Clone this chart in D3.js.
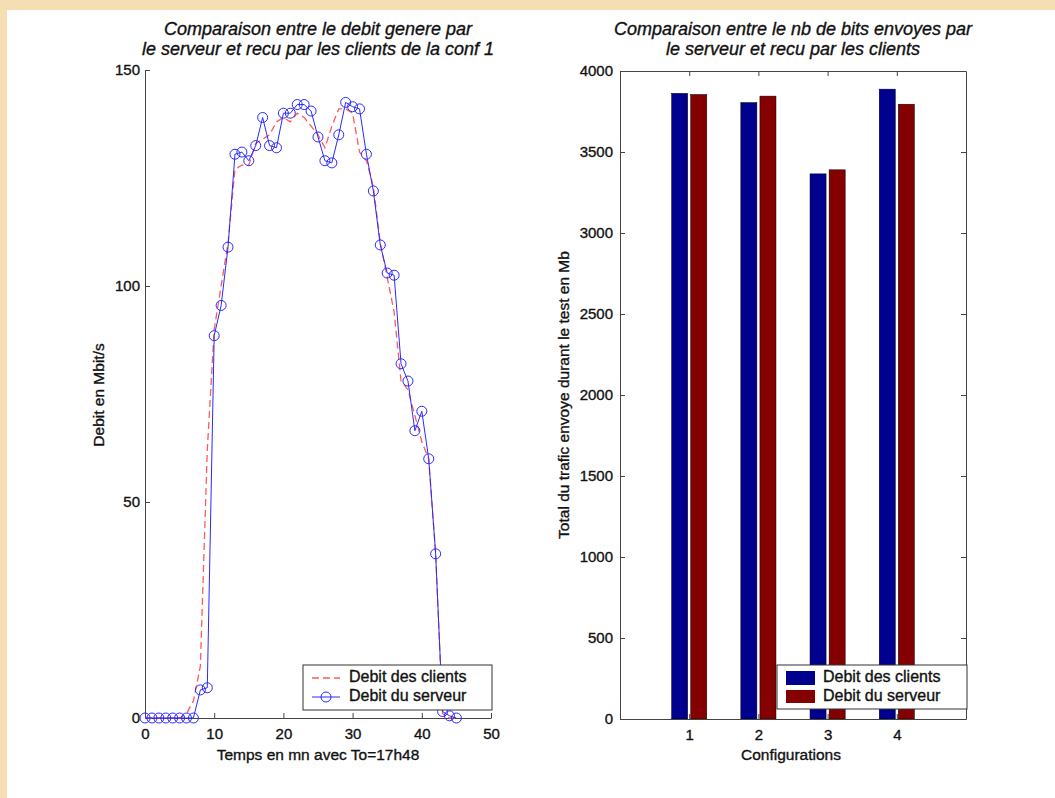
<!DOCTYPE html>
<html>
<head>
<meta charset="utf-8">
<script src="https://cdn.jsdelivr.net/npm/d3@7"></script>
<style>
  html, body { margin: 0; padding: 0; background: #fff; }
  svg text { font-family: "Liberation Sans", Arial, Helvetica, sans-serif; fill: #111; stroke: #111; stroke-width: 0.35px; }
</style>
</head>
<body>
<svg id="chart" width="1055" height="798"></svg>
<script>
// ---- Data ----
const minutes = d3.range(0, 46);
const serverRate = [0,0,0,0,0,0,0,0,6.5,7,88.5,95.5,109,130.5,131,129,132.5,139,132.5,132,140,140,142,142,140.5,134.5,129,128.5,135,142.5,141.5,141,130.5,122,109.5,103,102.5,82,78,66.5,71,60,38,1.5,0.5,0];
const clientRate = [0,0,0,0,0,0,1,4,12,62,90,100,110,127,128,128,133,134,135,138,139,138,140,139,137,135,132,137,141,141,140,131,129,123,110,102,94,78,76,70,64,60,38,1,0,0];
const lineXTicks = [0,10,20,30,40,50];
const lineYTicks = [0,50,100,150];

const configurations = [1,2,3,4];
const clientTotals = [3862,3805,3365,3888];
const serverTotals = [3855,3845,3390,3795];
const barYTicks = [0,500,1000,1500,2000,2500,3000,3500,4000];

const seriesNames = ["Debit des clients","Debit du serveur"];

const TICK_FS = 15, LABEL_FS = 15.5, TITLE_FS = 18, LEGEND_FS = 16;

const svg = d3.select("#chart");
svg.append("rect").attr("width",1055).attr("height",798).attr("fill","#fff");

// ---------------- Left chart ----------------
const xL = d3.scaleLinear().domain([0,50]).range([145,491]);
const yL = d3.scaleLinear().domain([0,150]).range([718,70]);

const gL = svg.append("g");
const axL = gL.append("g").attr("transform","translate(145,0)")
  .call(d3.axisLeft(yL).tickValues(lineYTicks).tickSize(-5).tickSizeOuter(0).tickPadding(5));
const axB = gL.append("g").attr("transform","translate(0,718)")
  .call(d3.axisBottom(xL).tickValues(lineXTicks).tickSize(-5).tickSizeOuter(0).tickPadding(10));
[axL, axB].forEach(a => {
  a.selectAll("path,line").attr("stroke","#444");
  a.selectAll("text").attr("font-size",TICK_FS).attr("fill","#111");
});

const lineFn = d3.line().x((d,i)=>xL(minutes[i])).y(d=>yL(d));
gL.append("path").datum(clientRate).attr("d",lineFn)
  .attr("fill","none").attr("stroke","#ff5a5a").attr("stroke-width",1.3).attr("stroke-dasharray","7,4");
gL.append("path").datum(serverRate).attr("d",lineFn)
  .attr("fill","none").attr("stroke","#2a2aff").attr("stroke-width",1);
gL.selectAll("circle.srv").data(serverRate).join("circle").attr("class","srv")
  .attr("cx",(d,i)=>xL(minutes[i])).attr("cy",d=>yL(d)).attr("r",5)
  .attr("fill","none").attr("stroke","#2a2aff").attr("stroke-width",1);

// titles left
gL.append("text").attr("x",318).attr("y",35).attr("text-anchor","middle")
  .attr("font-size",TITLE_FS).attr("font-style","italic").text("Comparaison entre le debit genere par");
gL.append("text").attr("x",318).attr("y",55).attr("text-anchor","middle")
  .attr("font-size",TITLE_FS).attr("font-style","italic").text("le serveur et recu par les clients de la conf 1");
gL.append("text").attr("x",318).attr("y",756).attr("text-anchor","middle").attr("dominant-baseline","middle")
  .attr("font-size",LABEL_FS).text("Temps en mn avec To=17h48");
gL.append("text").attr("transform","translate(100,395) rotate(-90)").attr("text-anchor","middle")
  .attr("dominant-baseline","middle").attr("font-size",LABEL_FS).text("Debit en Mbit/s");

// legend left
const lgL = gL.append("g");
lgL.append("rect").attr("x",303).attr("y",665).attr("width",189).attr("height",45)
  .attr("fill","#fff").attr("stroke","#333").attr("stroke-width",1);
lgL.append("line").attr("x1",312).attr("x2",340).attr("y1",678).attr("y2",678)
  .attr("stroke","#ff5a5a").attr("stroke-width",1.3).attr("stroke-dasharray","7,4");
lgL.append("line").attr("x1",312).attr("x2",340).attr("y1",697).attr("y2",697)
  .attr("stroke","#2a2aff").attr("stroke-width",1);
lgL.append("circle").attr("cx",326).attr("cy",697).attr("r",5)
  .attr("fill","none").attr("stroke","#2a2aff");
lgL.selectAll("text").data(seriesNames).join("text")
  .attr("x",349).attr("y",(d,i)=>678+i*19).attr("dominant-baseline","middle")
  .attr("font-size",LEGEND_FS).text(d=>d);

// ---------------- Right chart ----------------
const xR = d3.scaleLinear().domain([0,5]).range([620,966]);
const yR = d3.scaleLinear().domain([0,4000]).range([719,71]);
const gR = svg.append("g");
const off = 0.138, bw = 0.232;

gR.selectAll("rect.cli").data(clientTotals).join("rect").attr("class","cli")
  .attr("x",(d,i)=>xR(configurations[i]-off-bw/2)).attr("width",xR(bw)-xR(0))
  .attr("y",d=>yR(d)).attr("height",d=>yR(0)-yR(d))
  .attr("fill","#00008f").attr("stroke","#000").attr("stroke-width",0.5);
gR.selectAll("rect.srv").data(serverTotals).join("rect").attr("class","srv")
  .attr("x",(d,i)=>xR(configurations[i]+off-bw/2)).attr("width",xR(bw)-xR(0))
  .attr("y",d=>yR(d)).attr("height",d=>yR(0)-yR(d))
  .attr("fill","#850000").attr("stroke","#000").attr("stroke-width",0.5);

const aL = gR.append("g").attr("transform","translate(620,0)")
  .call(d3.axisLeft(yR).tickValues(barYTicks).tickSize(-5).tickSizeOuter(0).tickPadding(7).tickFormat(d3.format("d")));
const aR = gR.append("g").attr("transform","translate(966,0)")
  .call(d3.axisRight(yR).tickValues(barYTicks).tickSize(-5).tickSizeOuter(0).tickFormat(""));
const aB = gR.append("g").attr("transform","translate(0,719)")
  .call(d3.axisBottom(xR).tickValues(configurations).tickSize(-5).tickSizeOuter(0).tickPadding(10).tickFormat(d3.format("d")));
const aT = gR.append("g").attr("transform","translate(0,71)")
  .call(d3.axisTop(xR).tickValues(configurations).tickSize(-5).tickSizeOuter(0).tickFormat(""));
[aL,aR,aB,aT].forEach(a => {
  a.selectAll("path,line").attr("stroke","#444");
  a.selectAll("text").attr("font-size",TICK_FS).attr("fill","#111");
});

gR.append("text").attr("x",793).attr("y",35).attr("text-anchor","middle")
  .attr("font-size",TITLE_FS).attr("font-style","italic").text("Comparaison entre le nb de bits envoyes par");
gR.append("text").attr("x",793).attr("y",55).attr("text-anchor","middle")
  .attr("font-size",TITLE_FS).attr("font-style","italic").text("le serveur et recu par les clients");
gR.append("text").attr("x",791).attr("y",756).attr("text-anchor","middle").attr("dominant-baseline","middle")
  .attr("font-size",LABEL_FS).text("Configurations");
gR.append("text").attr("transform","translate(565,395) rotate(-90)").attr("text-anchor","middle")
  .attr("dominant-baseline","middle").attr("font-size",LABEL_FS).text("Total du trafic envoye durant le test en Mb");

const lgR = gR.append("g");
lgR.append("rect").attr("x",777).attr("y",665).attr("width",190).attr("height",44)
  .attr("fill","#fff").attr("stroke","#333").attr("stroke-width",1);
lgR.append("rect").attr("x",786).attr("y",671).attr("width",29).attr("height",14).attr("fill","#00008f");
lgR.append("rect").attr("x",786).attr("y",690).attr("width",29).attr("height",13).attr("fill","#850000");
lgR.selectAll("text").data(seriesNames).join("text")
  .attr("x",823).attr("y",(d,i)=>678+i*19).attr("dominant-baseline","middle")
  .attr("font-size",LEGEND_FS).text(d=>d);

// beige frame
svg.append("rect").attr("x",0).attr("y",0).attr("width",1055).attr("height",10).attr("fill","#f5deb3");
svg.append("rect").attr("x",0).attr("y",0).attr("width",7).attr("height",798).attr("fill","#f5deb3");
</script>
</body>
</html>
